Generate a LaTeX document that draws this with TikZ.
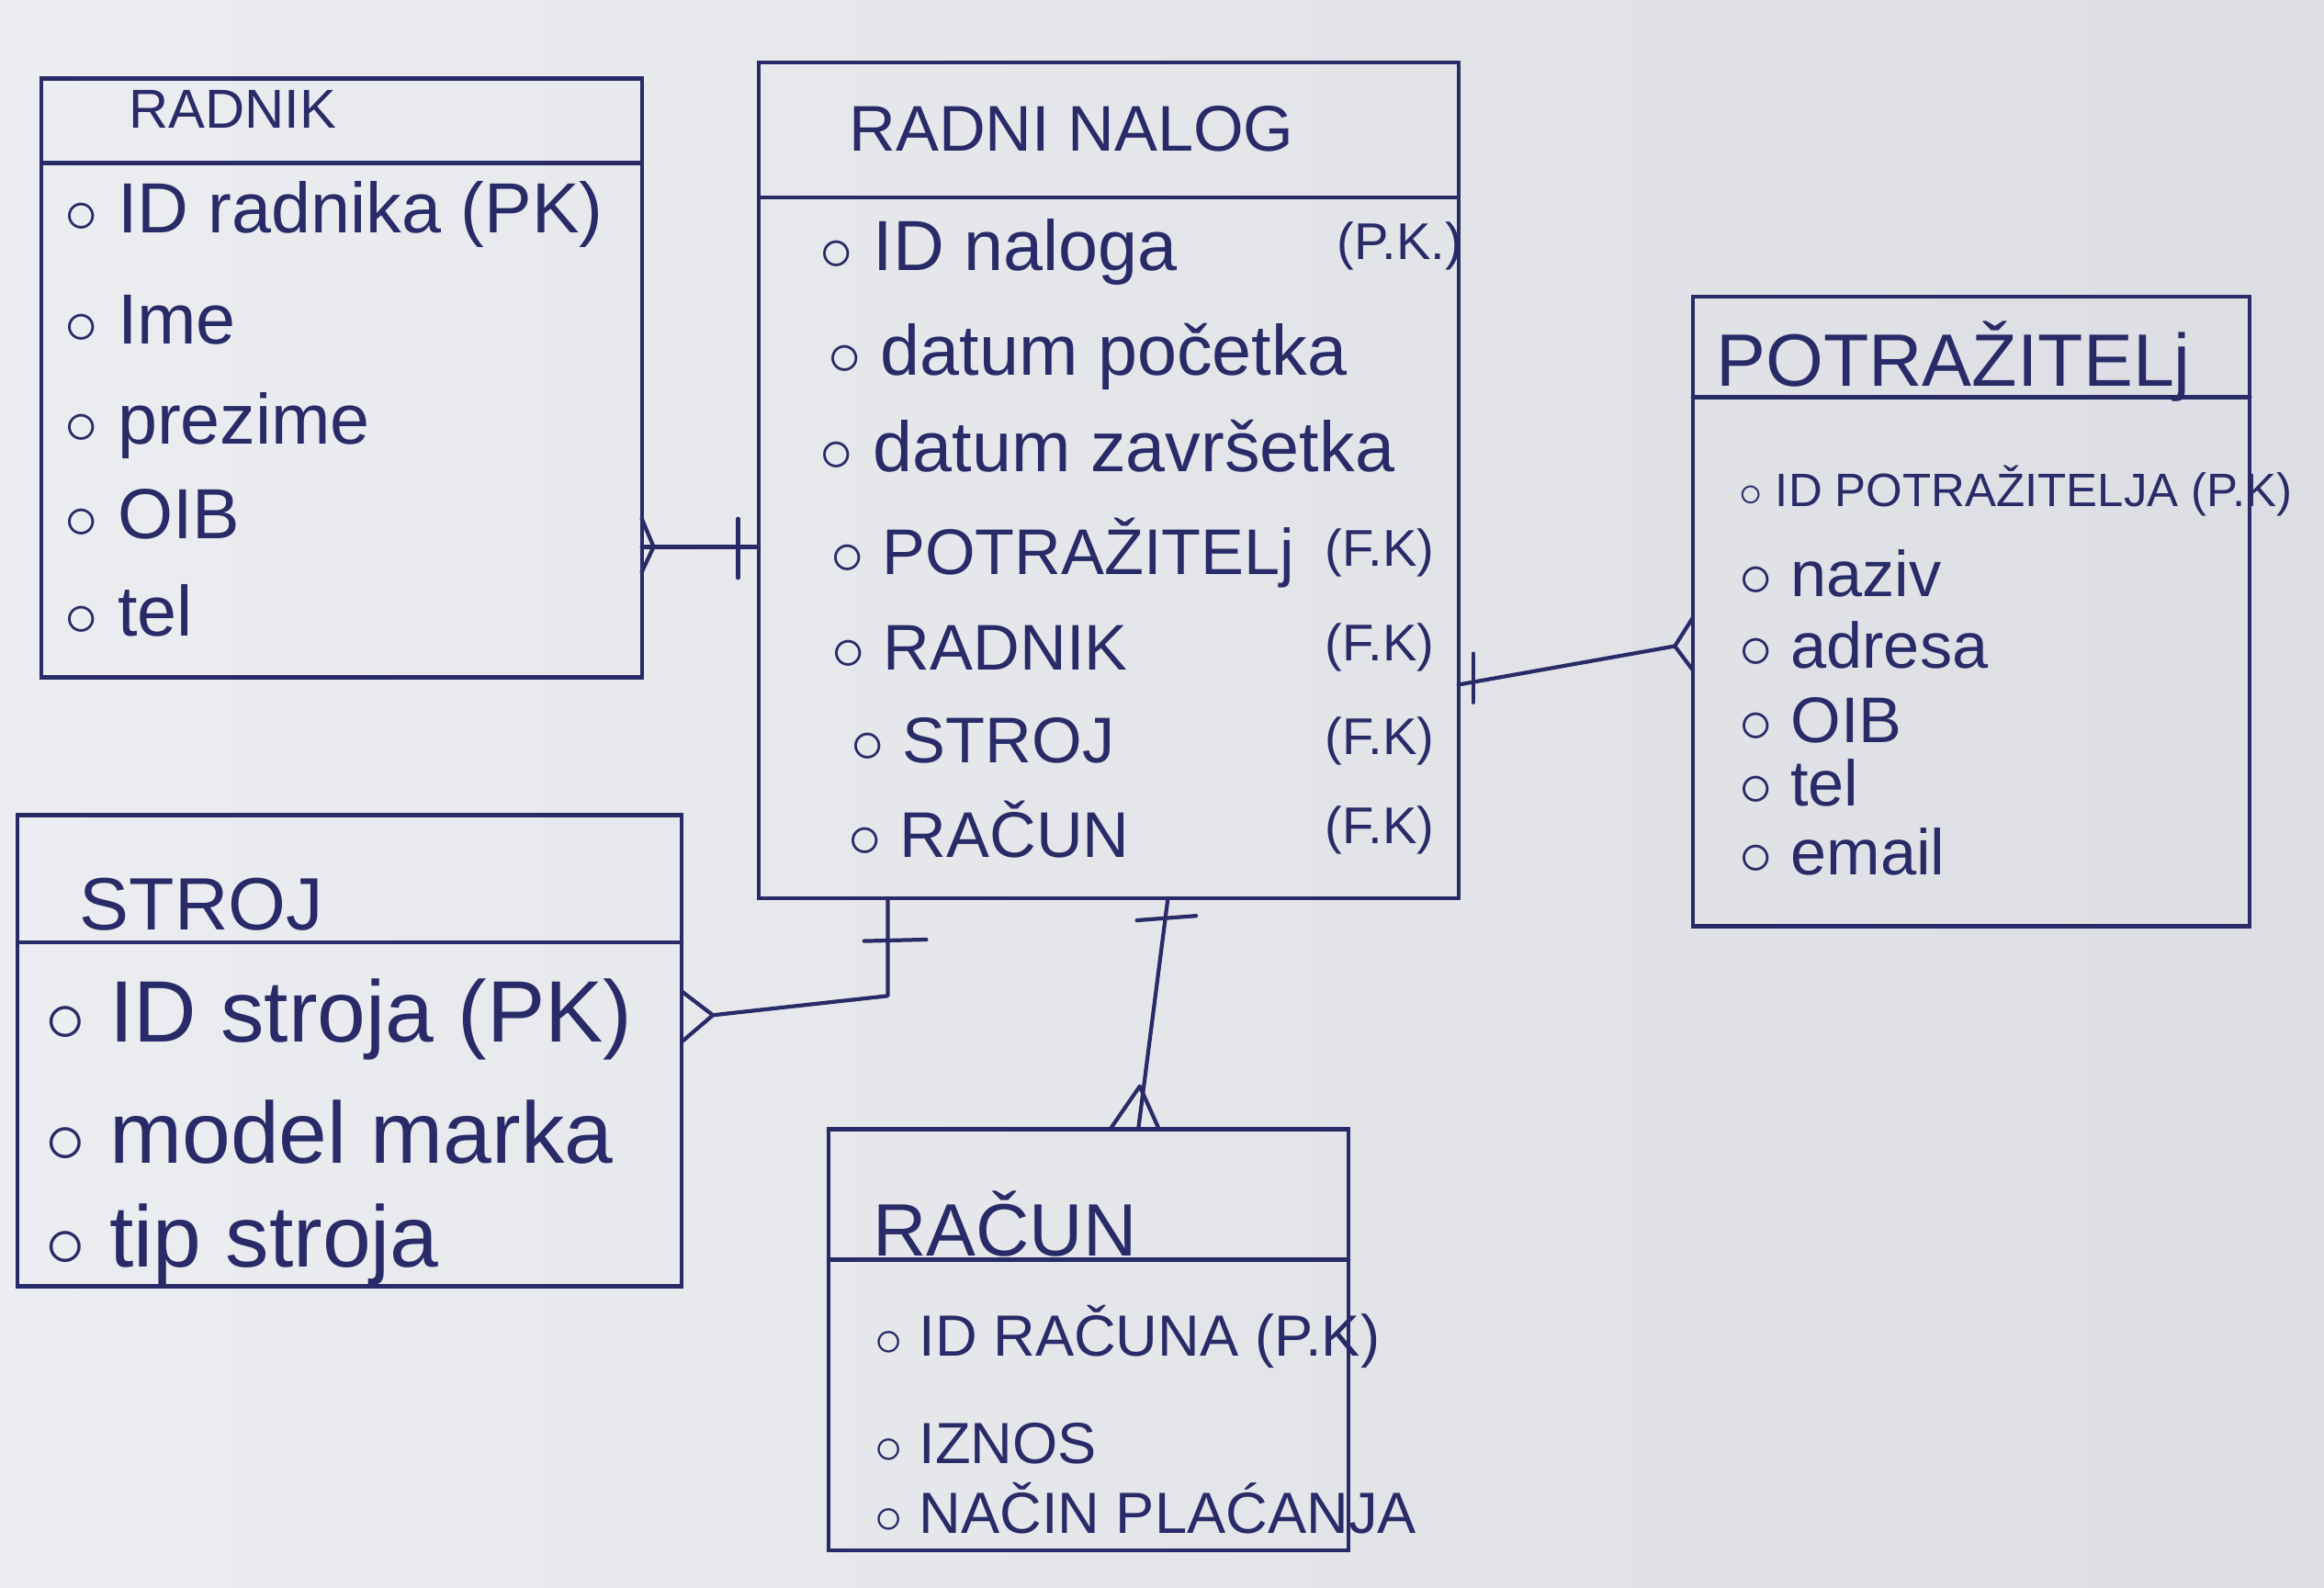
\documentclass[tikz,border=0pt]{standalone}
\usepackage{fontspec}
\setmainfont{Liberation Sans}
\usetikzlibrary{positioning}

\newcommand{\px}{0.16135mm}
\definecolor{ink}{HTML}{282B68}
\definecolor{paperl}{HTML}{ECEDF0}
\definecolor{paperr}{HTML}{DCDEE3}

\tikzset{
  ent/.style 2 args={draw=ink, line width=1.2pt, inner sep=0pt, outer sep=0pt,
    minimum width=#1*\px, minimum height=#2*\px},
  ttl/.style={text=ink, inner sep=0pt, font=\fontsize{23}{27}\selectfont},
  attr/.style={anchor=west, text=ink, inner sep=0pt, font=\fontsize{22}{26}\selectfont},
  keylbl/.style={anchor=east, text=ink, inner sep=0pt, font=\fontsize{16}{19}\selectfont},
  rel/.style={draw=ink, line width=1.2pt, line join=round, line cap=round},
}

\begin{document}
\begin{tikzpicture}[x=\px, y=-\px]
    % paper
    \shade[left color=paperl, right color=paperr] (0,0) rectangle (1568,1071);
    \useasboundingbox (0,0) rectangle (1568,1071);

    % Draw the entities
    \node[ent={405}{404}] (radnik) at (230.5,255) {};
    \node[ent={472}{564}] (nalog) at (748,324) {};
    \node[ent={376}{425}] (potr) at (1330,412.5) {};
    \node[ent={448}{318}] (stroj) at (236,709) {};
    \node[ent={351}{284}] (racun) at (734.5,904) {};

    % header lines
    \draw[rel] (radnik.west |- 0,110) -- (radnik.east |- 0,110);
    \draw[rel] (nalog.west |- 0,133) -- (nalog.east |- 0,133);
    \draw[rel] (potr.west |- 0,268) -- (potr.east |- 0,268);
    \draw[rel] (stroj.west |- 0,636) -- (stroj.east |- 0,636);
    \draw[rel] (racun.west |- 0,850) -- (racun.east |- 0,850);

    % titles
    \node[ttl, font=\fontsize{17}{20}\selectfont] (radnikT) at (157,74) {RADNIK};
    \node[ttl, font=\fontsize{20}{24}\selectfont] (nalogT) at (723,87) {RADNI NALOG};
    \node[ttl] (potrT) at (1318,244) {POTRAŽITELj};
    \node[ttl] (strojT) at (136,610) {STROJ};
    \node[ttl] (racunT) at (678,826) {RAČUN};

    % RADNIK attributes
    \node[attr] (r1) at (43,145) {$\circ$ ID radnika (PK)};
    \node[attr] (r2) at (43,216) {$\circ$ Ime};
    \node[attr] (r3) at (43,287) {$\circ$ prezime};
    \node[attr] (r4) at (43,347) {$\circ$ OIB};
    \node[attr] (r5) at (43,412) {$\circ$ tel};

    % RADNI NALOG attributes
    \node[attr] (n1) at (553,170) {$\circ$ ID naloga};
    \node[attr] (n2) at (558,241) {$\circ$ datum početka};
    \node[attr] (n3) at (553,301) {$\circ$ datum završetka};
    \node[attr, font=\fontsize{20}{24}\selectfont] (n4) at (560,373) {$\circ$ POTRAŽITELj};
    \node[attr, font=\fontsize{20}{24}\selectfont] (n5) at (561,437) {$\circ$ RADNIK};
    \node[attr, font=\fontsize{20}{24}\selectfont] (n6) at (574,500) {$\circ$ STROJ};
    \node[attr, font=\fontsize{20}{24}\selectfont] (n7) at (572,560) {$\circ$ RAČUN};
    \node[keylbl] (k1) at (987,166) {(P.K.)};
    \node[keylbl] (k4) at (968,373) {(F.K)};
    \node[keylbl] (k5) at (968,437) {(F.K)};
    \node[keylbl] (k6) at (968,500) {(F.K)};
    \node[keylbl] (k7) at (968,560) {(F.K)};

    % POTRAZITELJ attributes
    \node[attr, font=\fontsize{14.5}{17}\selectfont] (p1) at (1173,331) {$\circ$ ID POTRAŽITELJA (P.K)};
    \node[attr, font=\fontsize{20}{24}\selectfont] (p2) at (1173,387) {$\circ$ naziv};
    \node[attr, font=\fontsize{20}{24}\selectfont] (p3) at (1173,435) {$\circ$ adresa};
    \node[attr, font=\fontsize{20}{24}\selectfont] (p4) at (1173,486) {$\circ$ OIB};
    \node[attr, font=\fontsize{20}{24}\selectfont] (p5) at (1173,528) {$\circ$ tel};
    \node[attr, font=\fontsize{20}{24}\selectfont] (p6) at (1173,575) {$\circ$ email};

    % STROJ attributes
    \node[attr, font=\fontsize{27}{31}\selectfont] (s1) at (30,688) {$\circ$ ID stroja (PK)};
    \node[attr, font=\fontsize{27}{31}\selectfont] (s2) at (30,764) {$\circ$ model marka};
    \node[attr, font=\fontsize{27}{31}\selectfont] (s3) at (30,840) {$\circ$ tip stroja};

    % RACUN attributes
    \node[attr, font=\fontsize{18}{21}\selectfont] (c1) at (590,902) {$\circ$ ID RAČUNA (P.K)};
    \node[attr, font=\fontsize{18}{21}\selectfont] (c2) at (590,974) {$\circ$ IZNOS};
    \node[attr, font=\fontsize{18}{21}\selectfont] (c3) at (590,1018) {$\circ$ NAČIN PLAĆANJA};

    % RADNIK -- RADNI NALOG
    \draw[rel] (radnik.east |- 0,369) -- (nalog.west |- 0,369);
    \draw[rel] (radnik.east |- 0,350) -- (441,369) -- (radnik.east |- 0,386);
    \draw[rel] (498,350) -- (498,390);

    % RADNI NALOG -- POTRAZITELJ
    \coordinate (pf) at (1130,436);
    \draw[rel] (nalog.east |- 0,462) -- (pf);
    \draw[rel] (potr.west |- 0,417) -- (pf) -- (potr.west |- 0,452);
    \draw[rel] (994,441) -- (994,474);

    % STROJ -- RADNI NALOG
    \coordinate (sf) at (481,685);
    \draw[rel] (sf) -- (599,672) -- (599,0 |- nalog.south);
    \draw[rel] (stroj.east |- 0,669) -- (sf) -- (stroj.east |- 0,703);
    \draw[rel] (583,635) -- (625,634);

    % RADNI NALOG -- RACUN
    \draw[rel] (788,0 |- nalog.south) -- (768,0 |- racun.north);
    \draw[rel] (749,0 |- racun.north) -- (769,733) -- (782,0 |- racun.north);
    \draw[rel] (767,621) -- (807,618);
\end{tikzpicture}
\end{document}
